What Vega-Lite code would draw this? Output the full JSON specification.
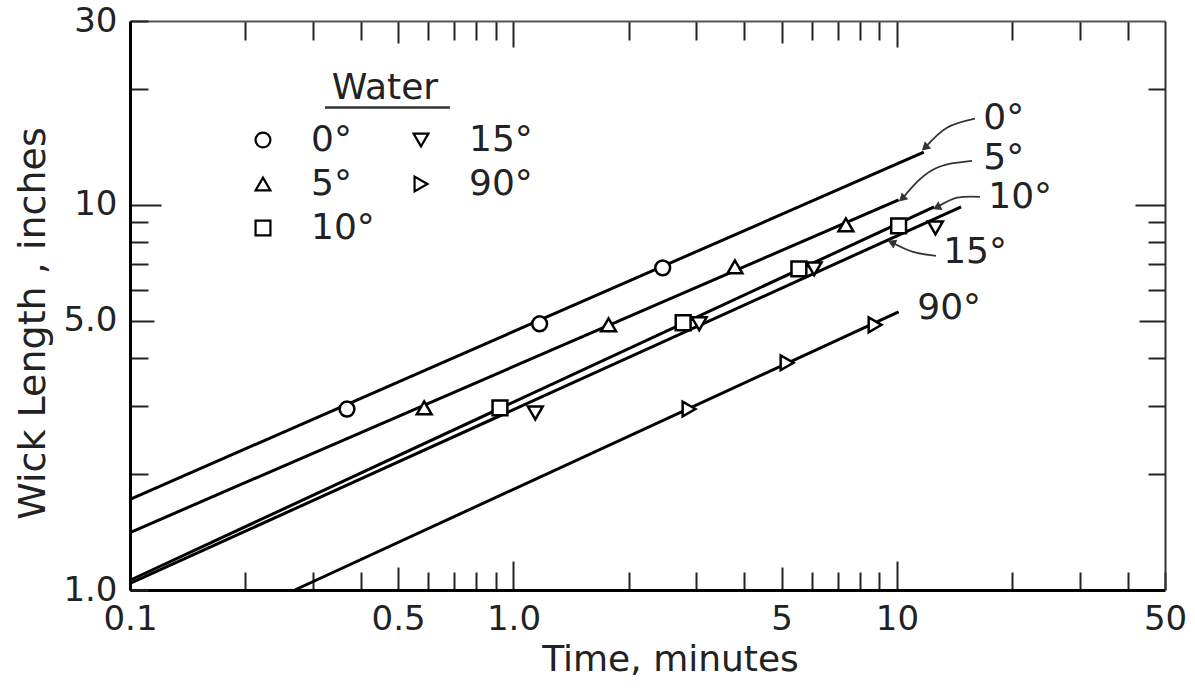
{
  "$schema": "https://vega.github.io/schema/vega-lite/v6.json",
  "width": 1035,
  "height": 569,
  "autosize": {"type": "none"},
  "padding": {"left": 130, "top": 21, "right": 30, "bottom": 108},
  "background": "white",
  "config": {
    "view": {"stroke": null},
    "axis": {"grid": false, "labelFont": "DejaVu Sans", "titleFont": "DejaVu Sans", "labelColor": "#222", "titleColor": "#222", "titleFontWeight": "normal", "labelOverlap": false, "labelFlush": false, "labelBound": false, "tickColor": "#222", "tickWidth": 2},
    "text": {"font": "DejaVu Sans", "color": "#222"}
  },
  "datasets": {
    "points": [
      {"series": "0°", "time": 0.368, "length": 2.95},
      {"series": "0°", "time": 1.17, "length": 4.91},
      {"series": "0°", "time": 2.45, "length": 6.86},
      {"series": "5°", "time": 0.585, "length": 2.97},
      {"series": "5°", "time": 1.77, "length": 4.88},
      {"series": "5°", "time": 3.78, "length": 6.90},
      {"series": "5°", "time": 7.36, "length": 8.87},
      {"series": "10°", "time": 0.922, "length": 2.97},
      {"series": "10°", "time": 2.77, "length": 4.94},
      {"series": "10°", "time": 5.55, "length": 6.82},
      {"series": "10°", "time": 10.1, "length": 8.82},
      {"series": "15°", "time": 1.14, "length": 2.88},
      {"series": "15°", "time": 3.05, "length": 4.91},
      {"series": "15°", "time": 6.08, "length": 6.82},
      {"series": "15°", "time": 12.6, "length": 8.71},
      {"series": "90°", "time": 2.87, "length": 2.95},
      {"series": "90°", "time": 5.17, "length": 3.89},
      {"series": "90°", "time": 8.77, "length": 4.88}
    ],
    "fits": [
      {"series": "0°", "time": 0.1, "length": 1.72},
      {"series": "0°", "time": 11.75, "length": 13.7},
      {"series": "5°", "time": 0.1, "length": 1.41},
      {"series": "5°", "time": 10.1, "length": 10.3},
      {"series": "10°", "time": 0.1, "length": 1.06},
      {"series": "10°", "time": 12.5, "length": 9.88},
      {"series": "15°", "time": 0.1, "length": 1.04},
      {"series": "15°", "time": 14.7, "length": 9.88},
      {"series": "90°", "time": 0.269, "length": 1.0},
      {"series": "90°", "time": 10.1, "length": 5.27}
    ],
    "labels": [
      {"text": "0°", "time": 16.8, "length": 16.8},
      {"text": "5°", "time": 16.8, "length": 13.2},
      {"text": "10°", "time": 17.3, "length": 10.5},
      {"text": "15°", "time": 13.2, "length": 7.55},
      {"text": "90°", "time": 11.3, "length": 5.40}
    ],
    "arrows": [
      {"arrow": "a0", "ord": 1, "time": 15.97, "length": 16.73},
      {"arrow": "a0", "ord": 2, "time": 13.5, "length": 15.85},
      {"arrow": "a0", "ord": 3, "time": 11.9, "length": 14.15},
      {"arrow": "a5", "ord": 1, "time": 15.69, "length": 13.01},
      {"arrow": "a5", "ord": 2, "time": 12.41, "length": 12.33},
      {"arrow": "a5", "ord": 3, "time": 10.37, "length": 10.43},
      {"arrow": "a10", "ord": 1, "time": 16.46, "length": 10.49},
      {"arrow": "a10", "ord": 2, "time": 14.34, "length": 10.43},
      {"arrow": "a10", "ord": 3, "time": 12.79, "length": 9.88},
      {"arrow": "a15", "ord": 1, "time": 12.64, "length": 7.37},
      {"arrow": "a15", "ord": 2, "time": 11.01, "length": 7.55},
      {"arrow": "a15", "ord": 3, "time": 9.76, "length": 7.96}
    ],
    "legendTitle": [
      {"text": "Water", "time": 0.462, "length": 20.1, "time2": 0.3225, "time3": 0.683, "under": 17.9}
    ]
  },
  "layer": [
    {
      "data": {"name": "fits"},
      "mark": {"type": "line", "stroke": "black", "strokeWidth": 3},
      "encoding": {
        "x": {"field": "time", "type": "quantitative", "scale": {"type": "log", "domain": [0.1, 50]},
          "axis": {
            "orient": "bottom",
            "values": [0.1, 0.2, 0.3, 0.4, 0.5, 0.6, 0.7, 0.8, 0.9, 1, 2, 3, 4, 5, 6, 7, 8, 9, 10, 20, 30, 40, 50],
            "labelExpr": "datum.value==0.1?'0.1':datum.value==0.5?'0.5':datum.value==1?'1.0':datum.value==5?'5':datum.value==10?'10':datum.value==50?'50':''",
            "tickSize": {"expr": "(datum.value==1||datum.value==10)?-29:(datum.value==0.5||datum.value==5)?-23:-18"},
            "labelPadding": {"expr": "(datum.value==1||datum.value==10)?41:(datum.value==0.5||datum.value==5)?35:30"},
            "labelFontSize": 34,
            "domainColor": "black", "domainWidth": 3,
            "title": "Time, minutes", "titleFontSize": 36, "titlePadding": 6, "titleX": 540
          }
        },
        "y": {"field": "length", "type": "quantitative", "scale": {"type": "log", "domain": [1, 30]},
          "axis": {
            "orient": "left",
            "values": [1, 2, 3, 4, 5, 6, 7, 8, 9, 10, 20, 30],
            "labelExpr": "datum.value==1?'1.0':datum.value==5?'5.0':datum.value==10?'10':datum.value==30?'30':''",
            "tickSize": {"expr": "datum.value==10?-31:datum.value==5?-24:-18"},
            "labelPadding": {"expr": "datum.value==10?44:datum.value==5?37:31"},
            "labelFontSize": 34,
            "domainColor": "black", "domainWidth": 3,
            "title": "Wick Length , inches", "titleFontSize": 38, "titlePadding": 10, "titleY": 302
          }
        },
        "detail": {"field": "series"}
      }
    },
    {
      "data": {"name": "points"},
      "mark": {"type": "point", "filled": true, "fill": "white", "stroke": "black", "strokeWidth": 2.5, "size": 220, "opacity": 1},
      "encoding": {
        "x": {"field": "time", "type": "quantitative", "scale": {"type": "log", "domain": [0.1, 50]},
          "axis": {
            "orient": "top",
            "values": [0.2, 0.3, 0.4, 0.5, 0.6, 0.7, 0.8, 0.9, 1, 2, 3, 4, 5, 6, 7, 8, 9, 10, 20, 30, 40],
            "labels": false,
            "tickSize": {"expr": "(datum.value==1||datum.value==10)?-26:(datum.value==0.5||datum.value==5)?-22:-19"},
            "domainColor": "#555", "domainWidth": 2,
            "title": null
          }
        },
        "y": {"field": "length", "type": "quantitative", "scale": {"type": "log", "domain": [1, 30]},
          "axis": {
            "orient": "right",
            "values": [2, 3, 4, 5, 6, 7, 8, 9, 10, 20],
            "labels": false,
            "tickSize": {"expr": "datum.value==10?-30:datum.value==5?-26:-17"},
            "domainColor": "#333", "domainWidth": 2,
            "title": null
          }
        },
        "shape": {"field": "series", "type": "nominal",
          "scale": {"domain": ["0°", "5°", "10°", "15°", "90°"], "range": ["circle", "triangle-up", "square", "triangle-down", "triangle-right"]},
          "legend": {
            "orient": "none", "legendX": 115, "legendY": 101, "columns": 2, "title": null,
            "labelFont": "DejaVu Sans", "labelFontSize": 36, "labelColor": "#222",
            "symbolSize": 220, "symbolStrokeWidth": 2.2,
            "labelOffset": 30, "columnPadding": 28, "rowPadding": 8, "padding": 0,
            "encode": {"symbols": {"fill": {"value": "white"}, "stroke": {"value": "black"}, "strokeWidth": {"value": 2.2}, "opacity": {"value": 1}, "size": {"value": 220}}}
          }
        }
      }
    },
    {
      "data": {"name": "labels"},
      "mark": {"type": "text", "align": "left", "baseline": "middle", "fontSize": 36},
      "encoding": {
        "x": {"field": "time", "type": "quantitative", "scale": {"type": "log", "domain": [0.1, 50]}, "axis": null},
        "y": {"field": "length", "type": "quantitative", "scale": {"type": "log", "domain": [1, 30]}, "axis": null},
        "text": {"field": "text"}
      }
    },
    {
      "data": {"name": "arrows"},
      "mark": {"type": "line", "interpolate": "natural", "stroke": "#333", "strokeWidth": 1.8},
      "encoding": {
        "x": {"field": "time", "type": "quantitative", "scale": {"type": "log", "domain": [0.1, 50]}, "axis": null},
        "y": {"field": "length", "type": "quantitative", "scale": {"type": "log", "domain": [1, 30]}, "axis": null},
        "detail": {"field": "arrow"},
        "order": {"field": "ord"}
      }
    },
    {
      "data": {"name": "arrows"},
      "transform": [{"filter": "datum.arrow=='a0' && datum.ord==3"}],
      "mark": {"type": "point", "shape": "triangle", "angle": 228, "filled": true, "fill": "#333", "size": 90, "opacity": 1},
      "encoding": {
        "x": {"field": "time", "type": "quantitative", "scale": {"type": "log", "domain": [0.1, 50]}, "axis": null},
        "y": {"field": "length", "type": "quantitative", "scale": {"type": "log", "domain": [1, 30]}, "axis": null}
      }
    },
    {
      "data": {"name": "arrows"},
      "transform": [{"filter": "datum.arrow=='a5' && datum.ord==3"}],
      "mark": {"type": "point", "shape": "triangle", "angle": 227, "filled": true, "fill": "#333", "size": 90, "opacity": 1},
      "encoding": {
        "x": {"field": "time", "type": "quantitative", "scale": {"type": "log", "domain": [0.1, 50]}, "axis": null},
        "y": {"field": "length", "type": "quantitative", "scale": {"type": "log", "domain": [1, 30]}, "axis": null}
      }
    },
    {
      "data": {"name": "arrows"},
      "transform": [{"filter": "datum.arrow=='a10' && datum.ord==3"}],
      "mark": {"type": "point", "shape": "triangle", "angle": 245, "filled": true, "fill": "#333", "size": 90, "opacity": 1},
      "encoding": {
        "x": {"field": "time", "type": "quantitative", "scale": {"type": "log", "domain": [0.1, 50]}, "axis": null},
        "y": {"field": "length", "type": "quantitative", "scale": {"type": "log", "domain": [1, 30]}, "axis": null}
      }
    },
    {
      "data": {"name": "arrows"},
      "transform": [{"filter": "datum.arrow=='a15' && datum.ord==3"}],
      "mark": {"type": "point", "shape": "triangle", "angle": 294, "filled": true, "fill": "#333", "size": 90, "opacity": 1},
      "encoding": {
        "x": {"field": "time", "type": "quantitative", "scale": {"type": "log", "domain": [0.1, 50]}, "axis": null},
        "y": {"field": "length", "type": "quantitative", "scale": {"type": "log", "domain": [1, 30]}, "axis": null}
      }
    },
    {
      "data": {"name": "legendTitle"},
      "mark": {"type": "text", "align": "center", "baseline": "middle", "fontSize": 36},
      "encoding": {
        "x": {"field": "time", "type": "quantitative", "scale": {"type": "log", "domain": [0.1, 50]}, "axis": null},
        "y": {"field": "length", "type": "quantitative", "scale": {"type": "log", "domain": [1, 30]}, "axis": null},
        "text": {"field": "text"}
      }
    },
    {
      "data": {"name": "legendTitle"},
      "mark": {"type": "rule", "stroke": "#333", "strokeWidth": 2.5},
      "encoding": {
        "x": {"field": "time2", "type": "quantitative", "scale": {"type": "log", "domain": [0.1, 50]}, "axis": null},
        "x2": {"field": "time3"},
        "y": {"field": "under", "type": "quantitative", "scale": {"type": "log", "domain": [1, 30]}, "axis": null}
      }
    }
  ],
  "resolve": {"axis": {"x": "independent", "y": "independent"}}
}
